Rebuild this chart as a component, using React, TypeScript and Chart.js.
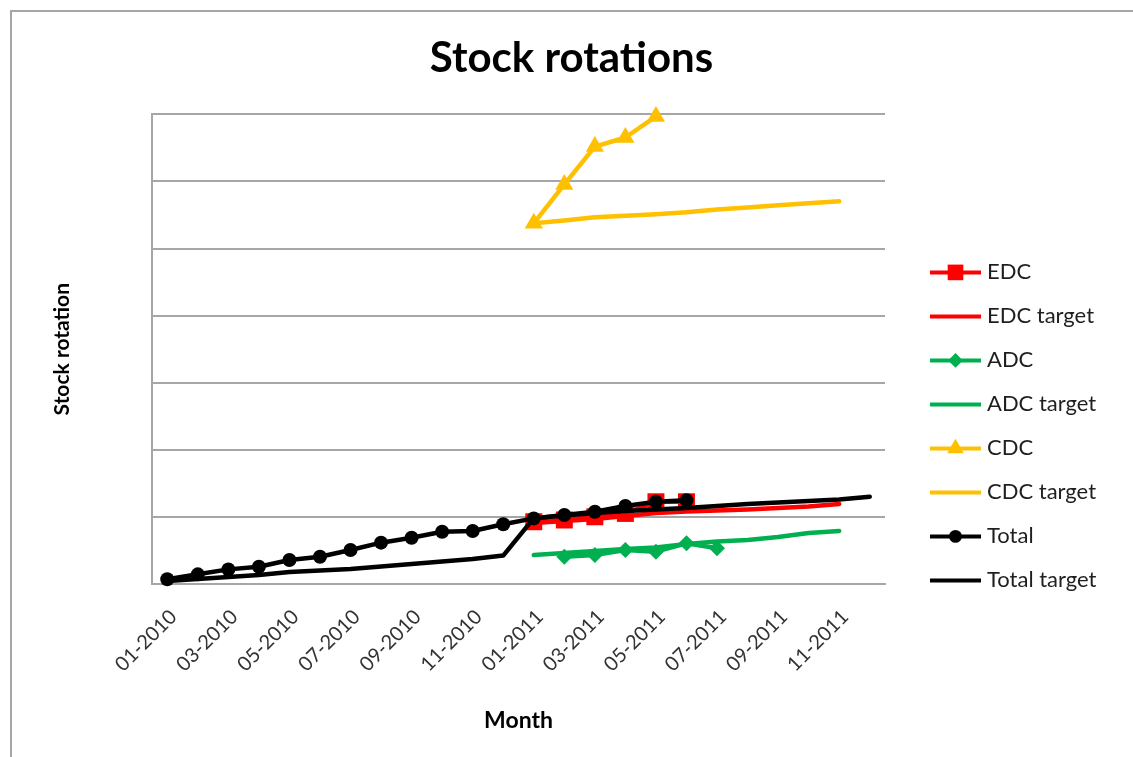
import React, { useEffect, useRef } from 'react';
import { Chart, registerables } from 'chart.js';
import { drawPoint } from 'chart.js/helpers';

Chart.register(...registerables);

const FONT = 'Lato, "Open Sans", "DejaVu Sans", sans-serif';

// ---- data ----
const months = [
  '01-2010', '02-2010', '03-2010', '04-2010', '05-2010', '06-2010',
  '07-2010', '08-2010', '09-2010', '10-2010', '11-2010', '12-2010',
  '01-2011', '02-2011', '03-2011', '04-2011', '05-2011', '06-2011',
  '07-2011', '08-2011', '09-2011', '10-2011', '11-2011', '12-2011',
];

const N = null;

const edc = [N, N, N, N, N, N, N, N, N, N, N, N, 4.64, 4.77, 5.01, 5.26, 6.13, 6.13, N, N, N, N, N, N];
const edcTarget = [N, N, N, N, N, N, N, N, N, N, N, N, 4.54, 4.69, 4.84, 5.06, 5.29, 5.4, 5.47, 5.55, 5.66, 5.77, 5.96, N];
const adc = [N, N, N, N, N, N, N, N, N, N, N, N, N, 2.03, 2.16, 2.53, 2.41, 3.03, 2.66, N, N, N, N, N];
const adcTarget = [N, N, N, N, N, N, N, N, N, N, N, N, 2.16, 2.31, 2.46, 2.61, 2.72, 2.98, 3.16, 3.28, 3.5, 3.8, 3.95, N];
const cdc = [N, N, N, N, N, N, N, N, N, N, N, N, 26.88, 29.78, 32.6, 33.28, 34.85, N, N, N, N, N, N, N];
const cdcTarget = [N, N, N, N, N, N, N, N, N, N, N, N, 26.88, 27.1, 27.33, 27.44, 27.55, 27.7, 27.92, 28.07, 28.22, 28.37, 28.52, N];
const total = [0.35, 0.72, 1.09, 1.29, 1.79, 2.03, 2.53, 3.08, 3.45, 3.89, 3.95, 4.45, 4.89, 5.14, 5.38, 5.81, 6.13, 6.25, N, N, N, N, N, N];
const totalTarget = [0.22, 0.37, 0.52, 0.67, 0.89, 1.0, 1.12, 1.3, 1.49, 1.68, 1.86, 2.12, 4.91, 5.1, 5.29, 5.44, 5.55, 5.66, 5.81, 5.96, 6.07, 6.18, 6.29, 6.5];

const yMin = 0;
const yMax = 35;
const yStep = 5;

const RED = '#ff0000';
const GREEN = '#00b050';
const ORANGE = '#ffc000';
const BLACK = '#000000';

function series(label: string, data: (number | null)[], color: string, style: string, radius: number, order: number) {
  return {
    label,
    data,
    borderColor: color,
    backgroundColor: color,
    pointBackgroundColor: color,
    pointBorderColor: color,
    pointBorderWidth: 0,
    borderWidth: 4.5,
    borderJoinStyle: 'round',
    borderCapStyle: 'round',
    pointStyle: style,
    pointRadius: radius,
    pointHoverRadius: radius,
    tension: 0,
    spanGaps: false,
    clip: false,
    order,
  };
}

const sideLegend = {
  id: 'sideLegend',
  afterDraw(chart: any) {
    const { ctx, chartArea } = chart;
    const x1 = chartArea.right + 45;
    const x2 = chartArea.right + 96;
    const tx = chartArea.right + 102;
    chart.data.datasets.forEach((ds: any, i: number) => {
      const y = chartArea.top + 158 + i * 44;
      ctx.save();
      ctx.strokeStyle = ds.borderColor;
      ctx.lineWidth = 4;
      ctx.lineCap = 'butt';
      ctx.beginPath();
      ctx.moveTo(x1, y);
      ctx.lineTo(x2, y);
      ctx.stroke();
      if (ds.pointRadius > 0) {
        ctx.fillStyle = ds.pointBackgroundColor;
        drawPoint(ctx, { pointStyle: ds.pointStyle, radius: ds.pointRadius * 0.92, borderWidth: 0, rotation: 0 } as any, (x1 + x2) / 2, y);
      }
      ctx.fillStyle = '#1f1f1f';
      ctx.font = `22px ${FONT}`;
      ctx.textBaseline = 'middle';
      ctx.textAlign = 'left';
      ctx.fillText(ds.label, tx, y);
      ctx.restore();
    });
  },
};

export default function App() {
  const ref = useRef<HTMLCanvasElement>(null);

  useEffect(() => {
    const chart = new Chart(ref.current as HTMLCanvasElement, {
      type: 'line',
      data: {
        labels: months,
        datasets: [
          series('EDC', edc, RED, 'rect', 12, 7),
          series('EDC target', edcTarget, RED, 'circle', 0, 6),
          series('ADC', adc, GREEN, 'rectRot', 8, 5),
          series('ADC target', adcTarget, GREEN, 'circle', 0, 4),
          series('CDC', cdc, ORANGE, 'triangle', 10.5, 3),
          series('CDC target', cdcTarget, ORANGE, 'circle', 0, 2),
          series('Total', total, BLACK, 'circle', 7, 1),
          series('Total target', totalTarget, BLACK, 'circle', 0, 0),
        ] as any,
      },
      options: {
        responsive: false,
        animation: false,
        layout: { padding: { left: 10, right: 0, top: 0, bottom: 0 } },
        plugins: {
          legend: { display: false },
          tooltip: { enabled: false },
          title: {
            display: true,
            text: 'Stock rotations',
            color: '#000',
            font: { family: FONT, size: 42, weight: 'bold' },
            padding: { top: 33, bottom: 31 },
          },
        },
        scales: {
          x: {
            type: 'category',
            offset: true,
            grid: { drawOnChartArea: false, drawTicks: false, offset: true },
            border: { display: true, color: '#a6a6a6', width: 2 },
            ticks: {
              autoSkip: false,
              minRotation: 45,
              maxRotation: 45,
              padding: 21,
              labelOffset: 6,
              color: '#333333',
              font: { family: FONT, size: 20 },
              callback: (_v: any, i: number) => (i % 2 === 0 ? months[i] : ''),
            },
            title: {
              display: true,
              text: 'Month',
              color: '#000',
              font: { family: FONT, size: 23, weight: 'bold' },
              padding: { top: 0, bottom: 23 },
            },
            afterFit: (s: any) => { s.height = 173; },
          },
          y: {
            type: 'linear',
            min: yMin,
            max: yMax,
            position: 'left',
            grid: { color: '#a6a6a6', lineWidth: 2, drawTicks: false },
            border: { display: true, color: '#a6a6a6', width: 2 },
            ticks: { display: false, stepSize: yStep },
            title: {
              display: true,
              text: 'Stock rotation',
              color: '#000',
              font: { family: FONT, size: 21, weight: 'bold' },
              padding: { top: 40, bottom: 0 },
            },
            afterFit: (s: any) => { s.width = 142; },
          },
          yRight: {
            type: 'linear',
            display: true,
            position: 'right',
            grid: { drawOnChartArea: false, drawTicks: false },
            border: { display: false },
            ticks: { display: false },
            afterFit: (s: any) => { s.width = 248; },
          },
        },
      } as any,
      plugins: [sideLegend],
    });
    return () => chart.destroy();
  }, []);

  return (
    <div style={{ position: 'absolute', left: 0, top: 0, width: 1133, height: 757, background: '#fff', overflow: 'hidden' }}>
      <canvas ref={ref} width={1133} height={757} style={{ display: 'block' }} />
      <div
        style={{
          position: 'absolute', left: 10, top: 10, width: 1140, height: 760,
          borderTop: '2px solid #a6a6a6', borderLeft: '2px solid #a6a6a6', pointerEvents: 'none',
        }}
      />
    </div>
  );
}
